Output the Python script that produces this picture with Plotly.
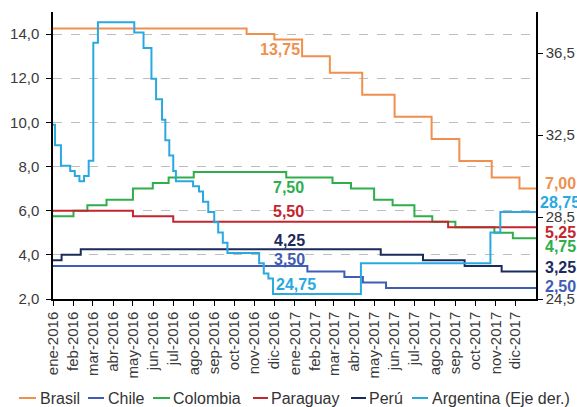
import plotly.graph_objects as go

# Monetary policy rates (%) as step series: change dates and new levels
brasil_x = ["2016-01-01", "2016-10-20", "2016-12-01", "2017-01-12", "2017-02-23", "2017-04-13",
            "2017-06-01", "2017-07-27", "2017-09-07", "2017-10-26", "2017-12-07", "2018-01-01"]
brasil_y = [14.25, 14.00, 13.75, 13.00, 12.25, 11.25, 10.25, 9.25, 8.25, 7.50, 7.00, 7.00]

chile_x = ["2016-01-01", "2017-01-20", "2017-03-17", "2017-04-14", "2017-05-19", "2018-01-01"]
chile_y = [3.50, 3.25, 3.00, 2.75, 2.50, 2.50]

colombia_x = ["2016-01-01", "2016-02-01", "2016-02-22", "2016-03-22", "2016-05-01", "2016-05-31",
              "2016-06-24", "2016-08-01", "2016-12-19", "2017-02-27", "2017-03-27", "2017-05-01",
              "2017-05-29", "2017-07-01", "2017-07-28", "2017-09-01", "2017-10-30", "2017-11-27",
              "2018-01-01"]
colombia_y = [5.75, 6.00, 6.25, 6.50, 7.00, 7.25, 7.50, 7.75, 7.50, 7.25, 7.00, 6.50,
              6.25, 5.75, 5.50, 5.25, 5.00, 4.75, 4.75]

paraguay_x = ["2016-01-01", "2016-05-01", "2016-07-01", "2017-08-21", "2018-01-01"]
paraguay_y = [6.00, 5.75, 5.50, 5.25, 5.25]

peru_x = ["2016-01-01", "2016-01-14", "2016-02-12", "2017-05-11", "2017-07-14", "2017-09-15",
          "2017-11-10", "2018-01-01"]
peru_y = [3.75, 4.00, 4.25, 4.00, 3.75, 3.50, 3.25, 3.25]

# Argentina plotted against the right-hand axis
argentina_x = ["2016-01-01", "2016-01-04", "2016-01-13", "2016-01-27", "2016-02-03", "2016-02-10",
               "2016-02-17", "2016-02-24", "2016-03-02", "2016-03-09", "2016-05-03", "2016-05-17",
               "2016-05-29", "2016-06-05", "2016-06-14", "2016-06-19", "2016-06-25", "2016-07-01",
               "2016-07-05", "2016-07-31", "2016-08-09", "2016-08-15", "2016-08-23", "2016-09-01",
               "2016-09-07", "2016-09-14", "2016-09-21", "2016-11-08", "2016-11-15", "2016-11-22",
               "2016-11-29", "2017-04-11", "2017-10-24", "2017-11-08", "2018-01-01"]
argentina_y = [33.00, 32.00, 31.00, 30.75, 30.50, 30.25,
               30.50, 31.25, 37.00, 38.00, 37.50, 36.75,
               35.25, 34.25, 33.25, 32.25, 31.50, 30.75,
               30.25, 30.00, 29.75, 29.25, 28.75, 28.25,
               27.75, 27.25, 26.75, 26.25, 25.75, 25.50,
               24.75, 26.25, 27.75, 28.75, 28.75]

month_ticks = [f"{y}-{m:02d}-01" for y in (2016, 2017) for m in range(1, 13)]
month_names = ["ene", "feb", "mar", "abr", "may", "jun", "jul", "ago", "sep", "oct", "nov", "dic"]
month_labels = [f"{n}-{y}" for y in (2016, 2017) for n in month_names]

left_ticks = [2, 4, 6, 8, 10, 12, 14]
right_ticks = [24.5, 28.5, 32.5, 36.5]

colors = {
    "Brasil": "#F0904F",
    "Chile": "#3F5DB4",
    "Colombia": "#2EAF4B",
    "Paraguay": "#C4262E",
    "Perú": "#1C2B5E",
    "Argentina (Eje der.)": "#2AA9E0",
}

FONT = "Liberation Sans, Arial, sans-serif"

fig = go.Figure()
series = [
    ("Brasil", brasil_x, brasil_y, "y"),
    ("Chile", chile_x, chile_y, "y"),
    ("Colombia", colombia_x, colombia_y, "y"),
    ("Paraguay", paraguay_x, paraguay_y, "y"),
    ("Perú", peru_x, peru_y, "y"),
    ("Argentina (Eje der.)", argentina_x, argentina_y, "y2"),
]
for name, xs, ys, ax in series:
    fig.add_trace(go.Scatter(
        x=xs, y=ys, name=name, yaxis=ax, mode="lines",
        line=dict(color=colors[name], width=2, shape="hv"),
        showlegend=False,
    ))

# Value labels next to the curves
def fmt(v):
    return f"{v:.2f}".replace(".", ",")

inner_labels = [
    ("Brasil", "2016-12-09", 13.75, "y", -10),
    ("Colombia", "2016-12-23", 7.50, "y", -10),
    ("Paraguay", "2016-12-23", 5.50, "y", 10),
    ("Perú", "2016-12-24", 4.25, "y", 9),
    ("Chile", "2016-12-24", 3.50, "y", 6),
    ("Argentina (Eje der.)", "2017-01-03", 24.75, "y2", 9),
]
annotations = []
for name, xd, v, yref, dy in inner_labels:
    annotations.append(dict(
        x=xd, y=v, xref="x", yref=yref, text=f"<b>{fmt(v)}</b>", showarrow=False,
        xanchor="center", yanchor="middle", yshift=dy,
        font=dict(family=FONT, size=16, color=colors[name]),
    ))

end_labels = [
    ("Brasil", brasil_y[-1], "y", 5, 7),
    ("Argentina (Eje der.)", argentina_y[-1], "y2", 9, 2),
    ("Paraguay", paraguay_y[-1], "y", -5, 7),
    ("Colombia", colombia_y[-1], "y", -8, 7),
    ("Perú", peru_y[-1], "y", 4, 7),
    ("Chile", chile_y[-1], "y", 1, 7),
]
for name, v, yref, dy, dx in end_labels:
    annotations.append(dict(
        x="2018-01-01", y=v, xref="x", yref=yref, text=f"<b>{fmt(v)}</b>", showarrow=False,
        xanchor="left", yanchor="middle", xshift=dx, yshift=dy,
        font=dict(family=FONT, size=16, color=colors[name]),
    ))

# Legend drawn as short line samples with text, in a single row below the axis
W, H = 577, 407
L, R, T, B = 53, 41, 12, 108
pw, ph = W - L - R, H - T - B
def px(xp):
    return (xp - L) / pw
def py(yp):
    return (H - B - yp) / ph

legend_items = [
    ("Brasil", 19, 36, 38),
    ("Chile", 88, 104, 106),
    ("Colombia", 153, 170, 171),
    ("Paraguay", 253, 268, 269),
    ("Perú", 351, 366, 367),
    ("Argentina (Eje der.)", 412, 428, 430),
]
shapes = []
ly = 398
for name, x0, x1, tx in legend_items:
    shapes.append(dict(type="line", xref="paper", yref="paper",
                       x0=px(x0), x1=px(x1), y0=py(ly), y1=py(ly),
                       line=dict(color=colors[name], width=2)))
    annotations.append(dict(x=px(tx), y=py(ly), xref="paper", yref="paper", text=name,
                            showarrow=False, xanchor="left", yanchor="middle",
                            font=dict(family=FONT, size=16, color="#333333")))

fig.update_layout(
    width=W, height=H,
    margin=dict(l=L, r=R, t=T, b=B, pad=0),
    paper_bgcolor="white", plot_bgcolor="white",
    separators=",.",
    showlegend=False,
    font=dict(family=FONT, size=15, color="#3a3a3a"),
    xaxis=dict(
        type="date", range=["2016-01-01", "2018-01-01"], automargin=False,
        tickmode="array", tickvals=month_ticks, ticktext=month_labels,
        tickangle=-90, ticks="outside", ticklen=5, tickcolor="#000000",
        showline=True, linecolor="#000000", linewidth=1.5,
        showgrid=False, zeroline=False,
        tickfont=dict(family=FONT, size=15, color="#3a3a3a"),
    ),
    yaxis=dict(
        range=[2, 15], tickmode="array", tickvals=left_ticks, tickformat=".1f",
        automargin=False,
        ticks="outside", ticklen=5, tickcolor="#000000",
        showline=True, linecolor="#000000", linewidth=1.5,
        showgrid=True, gridcolor="#BDBDBD", griddash="dash", gridwidth=1,
        zeroline=False, ticklabelstandoff=4,
        tickfont=dict(family=FONT, size=15, color="#3a3a3a"),
    ),
    yaxis2=dict(
        range=[24.5, 38.5], overlaying="y", side="right", automargin=False,
        tickmode="array", tickvals=right_ticks, tickformat=".1f",
        ticks="outside", ticklen=5, tickcolor="#000000",
        showline=True, linecolor="#000000", linewidth=1.5,
        showgrid=False, zeroline=False,
        tickfont=dict(family=FONT, size=15, color="#3a3a3a"),
    ),
    annotations=annotations,
    shapes=shapes,
)

fig.write_html("out.html")
